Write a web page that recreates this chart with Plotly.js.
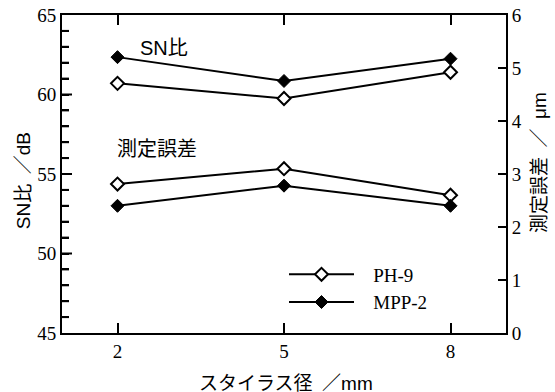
<!DOCTYPE html>
<html>
<head>
<meta charset="utf-8">
<script src="https://cdn.plot.ly/plotly-3.0.1.min.js"></script>
<style>html,body{margin:0;padding:0;background:#fff;}#chart{width:555px;height:392px;}</style>
</head>
<body>
<div id="chart"></div>
<script>
// Data
const stylusDiameter = [2, 5, 8];               // mm
const snPH9 = [60.7, 59.75, 61.4];              // SN比 / dB (left axis)
const snMPP2 = [62.35, 60.85, 62.25];           // SN比 / dB (left axis)
const errPH9 = [2.81, 3.10, 2.60];              // 測定誤差 / µm (right axis)
const errMPP2 = [2.40, 2.78, 2.40];             // 測定誤差 / µm (right axis)
const seriesNames = ['PH-9', 'MPP-2'];
const xTickVals = [2, 5, 8];
const snTickVals = [45, 46, 47, 48, 49, 50, 51, 52, 53, 54, 55, 56, 57, 58, 59, 60, 61, 62, 63, 64, 65];
const snTickText = ['45', '', '', '', '', '50', '', '', '', '', '55', '', '', '', '', '60', '', '', '', '', '65'];
const errTickVals = [0, 1, 2, 3, 4, 5, 6];

const serif = 'Liberation Serif, Times New Roman, serif';
const jp = 'Liberation Sans, Noto Sans CJK JP, sans-serif';

const openMarker = {symbol: 'diamond', size: 10, color: '#ffffff', line: {color: '#000', width: 2}};
const fillMarker = {symbol: 'diamond', size: 10, color: '#000000', line: {color: '#000', width: 1}};
const lineStyle = {color: '#000', width: 2};
const pad = '\u2002\u00a0';
const plotWidthPx = 444;

const traces = [
  {x: stylusDiameter, y: snPH9, name: pad + seriesNames[0], mode: 'lines+markers',
   line: lineStyle, marker: openMarker, showlegend: true, legendgroup: 'a'},
  {x: stylusDiameter, y: snMPP2, name: pad + seriesNames[1], mode: 'lines+markers',
   line: lineStyle, marker: fillMarker, showlegend: true, legendgroup: 'b'},
  {x: stylusDiameter, y: errPH9, yaxis: 'y2', name: seriesNames[0], mode: 'lines+markers',
   line: lineStyle, marker: openMarker, showlegend: false, legendgroup: 'a'},
  {x: stylusDiameter, y: errMPP2, yaxis: 'y2', name: seriesNames[1], mode: 'lines+markers',
   line: lineStyle, marker: fillMarker, showlegend: false, legendgroup: 'b'}
];

// Inward tick marks of the left (SN比) axis, placed through the y axis scale
const snMin = snTickVals[0], snMax = snTickVals[snTickVals.length - 1];
const leftTickShapes = snTickVals.filter(v => v > snMin && v < snMax).map(v => ({
  type: 'line', xref: 'paper', yref: 'y', x0: 0, x1: (v % 5 === 0 ? 10 : 7) / plotWidthPx,
  y0: v, y1: v, line: {color: '#000', width: 2}, layer: 'above'
}));

const layout = {
  width: 555, height: 392,
  margin: {l: 62, r: 49, t: 15, b: 59},
  font: {family: serif, size: 19, color: '#000'},
  showlegend: true,
  legend: {x: 0.5, y: 0.14, xanchor: 'left', yanchor: 'middle', bgcolor: 'rgba(0,0,0,0)',
           font: {family: serif, size: 19, color: '#000'}, itemwidth: 65, tracegroupgap: 0},
  xaxis: {
    range: [1, 9], tickmode: 'array', tickvals: xTickVals, ticks: 'inside', ticklen: 10, tickwidth: 2,
    tickcolor: '#000',
    showline: true, linewidth: 2, linecolor: '#000', mirror: 'ticks', showgrid: false, zeroline: false
  },
  yaxis: {
    range: [snMin, snMax], tickmode: 'array', tickvals: snTickVals, ticktext: snTickText,
    ticks: 'inside', ticklen: 7, tickwidth: 2, tickcolor: '#000',
    showline: true, linewidth: 2, linecolor: '#000', showgrid: false, zeroline: false
  },
  yaxis2: {
    overlaying: 'y', side: 'right', range: [0, 6], tickmode: 'array', tickvals: errTickVals,
    ticks: 'inside', ticklen: 8, tickwidth: 2, tickcolor: '#000',
    showline: true, linewidth: 2, linecolor: '#000', showgrid: false, zeroline: false
  },
  shapes: leftTickShapes,
  annotations: [
    {text: 'スタイラス径\u2002／mm', x: 0.5045, y: -0.16, xref: 'paper', yref: 'paper',
     xanchor: 'center', yanchor: 'middle', showarrow: false, font: {family: jp, size: 19, color: '#000'}},
    {text: 'SN比\u2002／dB', x: -0.085, y: 0.478, xref: 'paper', yref: 'paper', textangle: -90,
     xanchor: 'center', yanchor: 'middle', showarrow: false, font: {family: jp, size: 19, color: '#000'}},
    {text: '測定誤差\u2002／\u2002μm', x: 1.0766, y: 0.535, xref: 'paper', yref: 'paper', textangle: -90,
     xanchor: 'center', yanchor: 'middle', showarrow: false, font: {family: jp, size: 19, color: '#000'}},
    {text: 'SN比', x: 0.171, y: 0.896, xref: 'paper', yref: 'paper', xanchor: 'left', yanchor: 'middle',
     showarrow: false, font: {family: jp, size: 20, color: '#000'}},
    {text: '測定誤差', x: 0.119, y: 0.58, xref: 'paper', yref: 'paper', xanchor: 'left', yanchor: 'middle',
     showarrow: false, font: {family: jp, size: 20, color: '#000'}}
  ]
};

Plotly.newPlot('chart', traces, layout, {staticPlot: true, displayModeBar: false});
</script>
</body>
</html>
